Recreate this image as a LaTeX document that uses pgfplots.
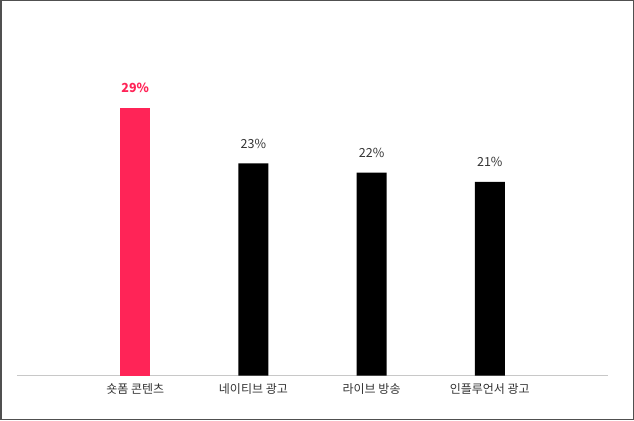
\documentclass[border=0pt]{standalone}
\usepackage{pgfplots}
\pgfplotsset{compat=1.18}
\usepackage{fontspec}
\setmainfont{Noto Sans CJK KR}
\definecolor{shortpink}{HTML}{FF2457}
\definecolor{labelgray}{HTML}{333333}
\definecolor{baseline}{HTML}{C8C8C8}
\definecolor{frame}{HTML}{505050}

\begin{document}
\begin{tikzpicture}
\useasboundingbox (0,0) rectangle (634pt,420pt);
\begin{axis}[
    at={(17pt,44.3pt)}, anchor=south west,
    scale only axis,
    width=591pt, height=323pt,
    xmin=-1, xmax=4,
    ymin=0, ymax=35,
    axis y line=none,
    axis x line*=bottom,
    axis line style={draw=baseline, line width=1.5pt},
    xtick={0,1,2,3},
    xticklabels={숏폼 콘텐츠, 네이티브 광고, 라이브 방송, 인플루언서 광고},
    major tick length=0pt,
    xticklabel style={font=\fontsize{12}{14}\selectfont, text=labelgray, yshift=-4pt},
    /pgf/number format/assume math mode=true,
    ybar, bar width=30pt, bar shift=0pt,
    nodes near coords={\pgfmathprintnumber{\pgfplotspointmeta}\%},
    every node near coord/.append style={anchor=center, yshift=20pt,
        font=\fontsize{12.5}{14}\selectfont},
    clip=false,
]
\addplot[fill=shortpink, draw=none,
    every node near coord/.append style={text=shortpink, font=\fontsize{12.5}{14}\selectfont\bfseries}]
    coordinates {(0,29)};
\addplot[fill=black, draw=none,
    every node near coord/.append style={text=labelgray}]
    coordinates {(1,23) (2,22) (3,21)};
\end{axis}
\draw[frame, line width=1.5pt] (0.75pt,0.75pt) rectangle (633.25pt,419.25pt);
\end{tikzpicture}
\end{document}
